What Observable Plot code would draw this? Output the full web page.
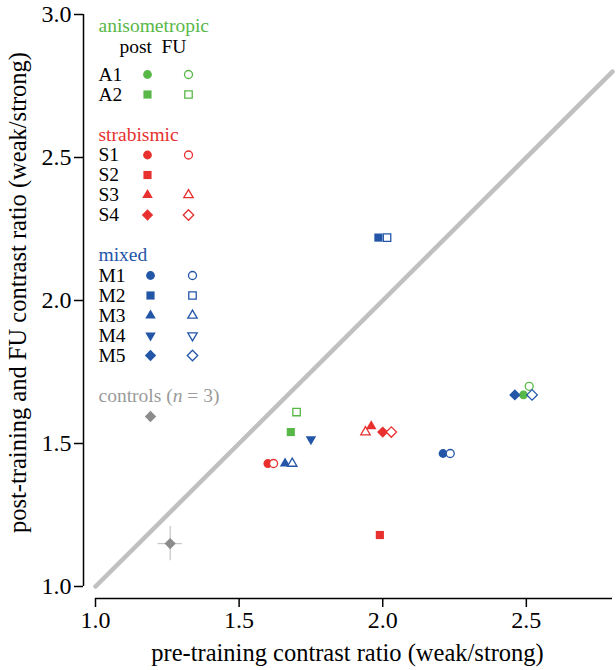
<!DOCTYPE html>
<html><head><meta charset="utf-8">
<script src="https://cdn.jsdelivr.net/npm/d3@7"></script>
<script src="https://cdn.jsdelivr.net/npm/@observablehq/plot@0.6"></script>
<style>body{margin:0;background:#fff} svg{display:block}</style>
</head><body><div id="chart"></div>
<script>
// ---------------- data ----------------
const subjects      = ["A1","A2","S1","S2","S3","S4","M1","M2","M3","M4","M5"];
const subjectGroup  = ["anisometropic","anisometropic","strabismic","strabismic","strabismic","strabismic","mixed","mixed","mixed","mixed","mixed"];
const subjectShape  = ["circle","square","circle","square","triangle","diamond","circle","square","triangle","triangleDown","diamond"];
const postPre   = [2.49, 1.68, 1.60, 1.99, 1.96, 2.00, 2.21, 1.985, 1.66, 1.75, 2.46];
const postRatio = [1.67, 1.54, 1.43, 1.18, 1.56, 1.54, 1.465, 2.22, 1.43, 1.515, 1.67];
const fuPre     = [2.51, 1.70, 1.62, null, 1.94, 2.03, 2.235, 2.015, 1.685, null, 2.52];
const fuRatio   = [1.70, 1.61, 1.43, null, 1.54, 1.54, 1.465, 2.22, 1.43, null, 1.67];
const legendHasFU = [true, true, true, false, true, true, true, true, true, true, true];
const controlPre = [1.26], controlPost = [1.15], controlPreErr = [0.042], controlPostErr = [0.06];
const controlsN = 3;
const groups = ["anisometropic", "strabismic", "mixed"];
const identityLine = [1, 2.8];
const xTicks = [1.0, 1.5, 2.0, 2.5];
const yTicks = [1.0, 1.5, 2.0, 2.5, 3.0];
const xLabel = "pre-training contrast ratio (weak/strong)";
const yLabel = "post-training and FU contrast ratio (weak/strong)";

// ---------------- style / layout ----------------
const groupColor = {anisometropic: "#58b847", strabismic: "#e8302f", mixed: "#2456a8"};
const controlColor = "#8c8c8c", controlText = "#9a9a9a";
const triangleDown = {draw(context, size) {
  const s3 = Math.sqrt(3), y = -Math.sqrt(size / (s3 * 3));
  context.moveTo(0, -y * 2); context.lineTo(-s3 * y, y); context.lineTo(s3 * y, y); context.closePath();
}};
const symbolOf = {circle: "circle", square: "square", triangle: "triangle", diamond: "diamond2", triangleDown};
const rOf = {circle: 4.4, square: 4.6, triangle: 3.9, triangleDown: 3.9, diamond: 5.1};

const W = 616, H = 670, mL = 83, mR = 4, mT = 14, mB = 72, off = 12;
function extendLow(lo, hi, spanPx) { const k = off / spanPx; return (lo - k * hi) / (1 - k); }
const xDomain = [extendLow(1, 2.8, W - mL - mR), 2.8];
const yDomain = [extendLow(1, 3, H - mT - mB), 3];
const xs = d3.scaleLinear().domain(xDomain).range([mL, W - mR]);
const ys = d3.scaleLinear().domain(yDomain).range([H - mB, mT]);
const ix = p => xs.invert(p), iy = p => ys.invert(p);

// legend layout (pixel rows converted to data space)
const legText = [], legDots = [];
const lx = 98, legFont = 19.5;
let ly = 25.5;
groups.forEach((g, gi) => {
  legText.push({x: ix(lx), y: iy(ly), t: g, fill: groupColor[g]});
  if (gi === 0) {
    ly += 20.5;
    legText.push({x: ix(119), y: iy(ly), t: "post", fill: "black"});
    legText.push({x: ix(161), y: iy(ly), t: "FU", fill: "black"});
    ly += 28;
  } else ly += 20.5;
  const c1 = g === "mixed" ? 150 : 147, c2 = g === "mixed" ? 192 : 188;
  subjects.forEach((s, i) => {
    if (subjectGroup[i] !== g) return;
    legText.push({x: ix(lx), y: iy(ly), t: s, fill: "black"});
    legDots.push({x: ix(c1), y: iy(ly), shape: subjectShape[i], color: groupColor[g], open: false});
    if (legendHasFU[i]) legDots.push({x: ix(c2), y: iy(ly), shape: subjectShape[i], color: groupColor[g], open: true});
    ly += 20;
  });
  ly += 20;
});
legText.push({x: ix(lx), y: iy(ly), t: `controls (n = ${controlsN})`, fill: controlText});
const legControl = [{x: ix(150), y: iy(ly + 21)}];

// ---------------- marks ----------------
const marks = [
  Plot.line(identityLine, {x: d => d, y: d => d, stroke: "#c0c0c0", strokeWidth: 4.5}),
  Plot.ruleY([1], {y: () => yDomain[0], x1: 1, x2: 2.8, stroke: "black", strokeWidth: 1.5}),
  Plot.ruleX([1], {x: () => xDomain[0], y1: 1, y2: 3, stroke: "black", strokeWidth: 1.5}),
  Plot.axisX({ticks: xTicks, tickFormat: d3.format(".1f"), tickSize: 9, tickPadding: 3, strokeWidth: 1.5, label: null, fontSize: 24}),
  Plot.axisY({ticks: yTicks, tickFormat: d3.format(".1f"), tickSize: 9, tickPadding: 3, strokeWidth: 1.5, label: null, fontSize: 24}),
  // controls mean with error bars
  Plot.ruleY(controlPost, {y: d => d, x1: (d, i) => controlPre[i] - controlPreErr[i], x2: (d, i) => controlPre[i] + controlPreErr[i], stroke: "#c4c4c4", strokeWidth: 1.2}),
  Plot.ruleX(controlPre, {x: d => d, y1: (d, i) => controlPost[i] - controlPostErr[i], y2: (d, i) => controlPost[i] + controlPostErr[i], stroke: "#c4c4c4", strokeWidth: 1.2}),
  Plot.dot(controlPre, {x: d => d, y: (d, i) => controlPost[i], symbol: "diamond2", r: 5.1, fill: controlColor, stroke: "none"})
];
// post-training (filled)
subjects.forEach((s, i) => {
  const sh = subjectShape[i], col = groupColor[subjectGroup[i]];
  marks.push(Plot.dot([i], {x: j => postPre[j], y: j => postRatio[j], symbol: symbolOf[sh], r: rOf[sh], fill: col, stroke: "none"}));
});
// follow-up (open)
subjects.forEach((s, i) => {
  if (fuPre[i] == null) return;
  const sh = subjectShape[i], col = groupColor[subjectGroup[i]];
  marks.push(Plot.dot([i], {x: j => fuPre[j], y: j => fuRatio[j], symbol: symbolOf[sh], r: rOf[sh] - 0.4, fill: "white", stroke: col, strokeWidth: 1.3}));
});
// legend
legDots.forEach(d => {
  marks.push(Plot.dot([d], {x: "x", y: "y", symbol: symbolOf[d.shape], r: d.open ? rOf[d.shape] - 0.4 : rOf[d.shape],
    fill: d.open ? "white" : d.color, stroke: d.open ? d.color : "none", strokeWidth: 1.3}));
});
marks.push(Plot.dot(legControl, {x: "x", y: "y", symbol: "diamond2", r: 5.1, fill: controlColor, stroke: "none"}));
marks.push(Plot.text(legText, {x: "x", y: "y", text: "t", fill: "fill", textAnchor: "start", fontSize: legFont}));
// axis titles
marks.push(Plot.text([xLabel], {x: () => ix(347), y: () => iy(653), text: d => d, fontSize: 24.5, textAnchor: "middle"}));
marks.push(Plot.text([yLabel], {x: () => ix(18), y: () => iy(292), text: d => d, fontSize: 24.5, rotate: -90, textAnchor: "middle"}));

const plot = Plot.plot({
  width: W, height: H,
  marginLeft: mL, marginRight: mR, marginTop: mT, marginBottom: mB,
  x: {domain: xDomain, nice: false},
  y: {domain: yDomain, nice: false},
  style: {fontFamily: "'Liberation Serif', 'Times New Roman', serif", fontSize: "24px", color: "black", background: "white", overflow: "visible"},
  marks
});
// italic n in the controls label
plot.querySelectorAll("text").forEach(t => {
  if (t.textContent === `controls (n = ${controlsN})`) {
    t.textContent = "controls (";
    const ts = document.createElementNS("http://www.w3.org/2000/svg", "tspan");
    ts.setAttribute("font-style", "italic"); ts.textContent = "n";
    t.appendChild(ts);
    t.appendChild(document.createTextNode(` = ${controlsN})`));
  }
});
document.getElementById("chart").appendChild(plot);
</script>
</body></html>
